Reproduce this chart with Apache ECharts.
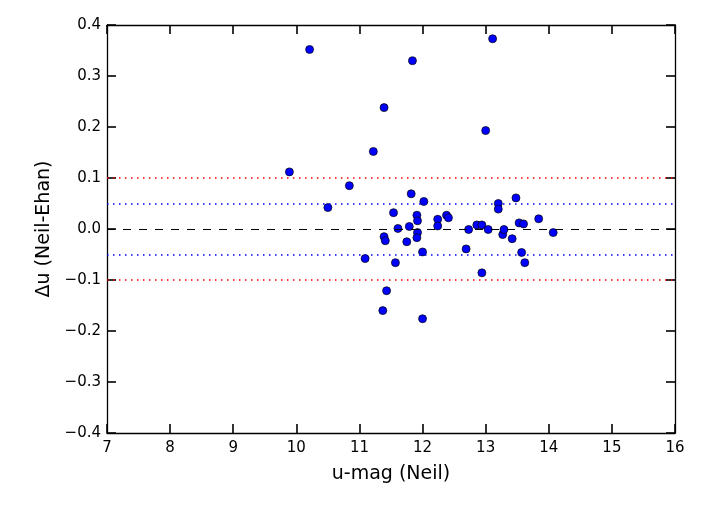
<!DOCTYPE html>
<html>
<head>
<meta charset="utf-8">
<script src="https://cdn.jsdelivr.net/npm/echarts@6/dist/echarts.min.js"></script>
<style>
  html, body { margin: 0; padding: 0; background: #fff; }
  #main { width: 710px; height: 509px; }
</style>
</head>
<body>
<div id="main"></div>
<script>
// u-mag (Neil) and delta u (Neil - Ehan)
var umag = [9.89, 10.21, 10.50, 10.84, 11.09, 11.22, 11.37, 11.39, 11.39, 11.41,
            11.43, 11.54, 11.57, 11.61, 11.75, 11.79, 11.82, 11.84, 11.91, 11.92,
            11.92, 11.91, 12.00, 12.00, 12.02, 12.24, 12.24, 12.38, 12.41, 12.69,
            12.73, 12.86, 12.94, 12.94, 13.00, 13.04, 13.11, 13.20, 13.20, 13.27,
            13.29, 13.42, 13.48, 13.53, 13.57, 13.60, 13.62, 13.84, 14.07];
var du   = [0.112, 0.352, 0.042, 0.085, -0.058, 0.152, -0.160, 0.238, -0.015, -0.023,
            -0.121, 0.032, -0.066, 0.001, -0.025, 0.005, 0.069, 0.330, 0.027, 0.016,
            -0.007, -0.017, -0.045, -0.176, 0.054, 0.019, 0.006, 0.027, 0.022, -0.039,
            -0.001, 0.008, 0.008, -0.086, 0.193, -0.001, 0.373, 0.050, 0.039, -0.011,
            -0.001, -0.019, 0.061, 0.012, -0.046, 0.010, -0.066, 0.020, -0.007];

// reference levels
var zeroLevel = [0];
var blueLevels = [0.05, -0.05];
var redLevels = [0.1, -0.1];

var myChart = echarts.init(document.getElementById('main'));
var font = 'DejaVu Sans';

function yFmt(v) {
    if (Math.abs(v) < 1e-9) return '0.0';
    return v < 0 ? '\u2212' + Math.abs(v).toFixed(1) : v.toFixed(1);
}

var pts = umag.map(function (x, i) { return [x, du[i]]; });

function lines(levels, color, width, type) {
    return levels.map(function (v) {
        return { yAxis: v, lineStyle: { color: color, width: width, type: type } };
    });
}

var axLine = { show: true, onZero: false, lineStyle: { color: '#000', width: 1.3 } };
var tick = { show: true, inside: true, length: 9, lineStyle: { color: '#000', width: 1.6 } };

var option = {
    animation: false,
    backgroundColor: '#fff',
    grid: { left: 107, right: 35, top: 25, bottom: 76, containLabel: false },
    xAxis: [{
        type: 'value', min: 7, max: 16, interval: 1,
        name: 'u-mag (Neil)', nameLocation: 'middle', nameGap: 32,
        nameTextStyle: { fontFamily: font, fontSize: 19, color: '#000' },
        axisLine: axLine, axisTick: tick, splitLine: { show: false },
        axisLabel: { fontFamily: font, fontSize: 15, color: '#000', margin: 8 }
    }, {
        type: 'value', position: 'top', min: 7, max: 16, interval: 1,
        axisLine: axLine, axisTick: tick, splitLine: { show: false },
        axisLabel: { show: false }
    }],
    yAxis: [{
        type: 'value', min: -0.4, max: 0.4, interval: 0.1,
        name: '\u0394u (Neil-Ehan)', nameLocation: 'middle', nameGap: 51, nameRotate: 90,
        nameTextStyle: { fontFamily: font, fontSize: 19, color: '#000' },
        axisLine: axLine, axisTick: tick, splitLine: { show: false },
        axisLabel: { fontFamily: font, fontSize: 15, color: '#000', margin: 6, formatter: yFmt }
    }, {
        type: 'value', position: 'right', min: -0.4, max: 0.4, interval: 0.1,
        axisLine: axLine, axisTick: tick, splitLine: { show: false },
        axisLabel: { show: false }
    }],
    series: [{
        type: 'line',
        data: [],
        z: 1,
        silent: true,
        markLine: {
            silent: true,
            symbol: 'none',
            label: { show: false },
            animation: false,
            data: lines(zeroLevel, '#000', 1.2, [8, 8])
                .concat(lines(blueLevels, '#0000ff', 1.5, [1.5, 4.5]))
                .concat(lines(redLevels, '#ff0000', 1.5, [1.5, 4.5]))
        }
    }, {
        type: 'scatter',
        data: pts,
        z: 3,
        symbol: 'circle',
        symbolSize: 8,
        itemStyle: { color: '#0000ff', borderColor: '#000', borderWidth: 0.7, opacity: 1 }
    }]
};
myChart.setOption(option);
</script>
</body>
</html>
